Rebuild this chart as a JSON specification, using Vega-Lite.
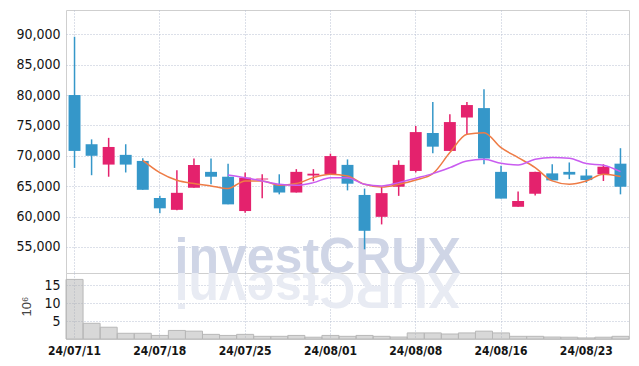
{
  "$schema": "https://vega.github.io/schema/vega-lite/v6.json",
  "padding": {"left": 15, "top": 9, "right": 10, "bottom": 5},
  "spacing": 0,
  "bounds": "flush",
  "background": "white",
  "data": {"values": [
    {"d": "24/07/11", "o": 80000, "h": 89600, "l": 68000, "c": 70800, "v": 16.7, "m5": null, "m10": null},
    {"d": "24/07/12", "o": 71900, "h": 72700, "l": 66800, "c": 70000, "v": 4.4, "m5": null, "m10": null},
    {"d": "24/07/15", "o": 68550, "h": 72950, "l": 66550, "c": 71450, "v": 3.3, "m5": null, "m10": null},
    {"d": "24/07/16", "o": 70150, "h": 71900, "l": 67250, "c": 68550, "v": 1.6, "m5": null, "m10": null},
    {"d": "24/07/17", "o": 69150, "h": 69600, "l": 64400, "c": 64400, "v": 1.6, "m5": 69250, "m10": null},
    {"d": "24/07/18", "o": 63050, "h": 63400, "l": 60550, "c": 61350, "v": 1.0, "m5": 67230, "m10": null},
    {"d": "24/07/19", "o": 61100, "h": 67600, "l": 61050, "c": 63900, "v": 2.4, "m5": 65970, "m10": null},
    {"d": "24/07/22", "o": 64750, "h": 69550, "l": 64750, "c": 68500, "v": 2.2, "m5": 65420, "m10": null},
    {"d": "24/07/23", "o": 67350, "h": 69550, "l": 65300, "c": 66550, "v": 1.3, "m5": 65030, "m10": null},
    {"d": "24/07/24", "o": 66550, "h": 68700, "l": 62000, "c": 62000, "v": 1.0, "m5": 64600, "m10": 66850},
    {"d": "24/07/25", "o": 60900, "h": 67250, "l": 60600, "c": 66400, "v": 1.3, "m5": 65860, "m10": 66400},
    {"d": "24/07/26", "o": 66100, "h": 66950, "l": 63000, "c": 66250, "v": 0.75, "m5": 65860, "m10": 65860},
    {"d": "24/07/29", "o": 65200, "h": 66950, "l": 63650, "c": 63950, "v": 0.75, "m5": 65150, "m10": 65310},
    {"d": "24/07/30", "o": 63950, "h": 67800, "l": 63950, "c": 67350, "v": 1.0, "m5": 65420, "m10": 65140},
    {"d": "24/07/31", "o": 66750, "h": 67800, "l": 65800, "c": 67050, "v": 0.5, "m5": 66400, "m10": 65580},
    {"d": "24/08/01", "o": 66950, "h": 70350, "l": 66950, "c": 69950, "v": 1.0, "m5": 66950, "m10": 66400},
    {"d": "24/08/02", "o": 68500, "h": 69400, "l": 64300, "c": 65400, "v": 0.75, "m5": 66680, "m10": 66400},
    {"d": "24/08/05", "o": 63550, "h": 64600, "l": 54600, "c": 57650, "v": 1.0, "m5": 65300, "m10": 65300},
    {"d": "24/08/06", "o": 59950, "h": 64850, "l": 58700, "c": 63850, "v": 0.75, "m5": 64870, "m10": 65030},
    {"d": "24/08/07", "o": 64900, "h": 69250, "l": 63400, "c": 68500, "v": 0.55, "m5": 65300, "m10": 65580},
    {"d": "24/08/08", "o": 67500, "h": 74900, "l": 67250, "c": 73900, "v": 1.7, "m5": 66020, "m10": 66300},
    {"d": "24/08/09", "o": 73750, "h": 78850, "l": 70400, "c": 71500, "v": 1.7, "m5": 67060, "m10": 67060},
    {"d": "24/08/12", "o": 70800, "h": 76850, "l": 70800, "c": 75550, "v": 1.4, "m5": 70520, "m10": 68050},
    {"d": "24/08/13", "o": 76300, "h": 78850, "l": 73550, "c": 78350, "v": 1.7, "m5": 73540, "m10": 69150},
    {"d": "24/08/14", "o": 77850, "h": 80950, "l": 68600, "c": 69550, "v": 2.2, "m5": 73810, "m10": 69420},
    {"d": "24/08/16", "o": 67350, "h": 68350, "l": 62950, "c": 62950, "v": 1.7, "m5": 71340, "m10": 68770},
    {"d": "24/08/19", "o": 61600, "h": 64100, "l": 61600, "c": 62550, "v": 0.75, "m5": 69700, "m10": 68490},
    {"d": "24/08/20", "o": 63750, "h": 67350, "l": 63450, "c": 67350, "v": 0.75, "m5": 68050, "m10": 69420},
    {"d": "24/08/21", "o": 67100, "h": 68600, "l": 65950, "c": 65950, "v": 0.55, "m5": 65860, "m10": 69700},
    {"d": "24/08/22", "o": 67350, "h": 68900, "l": 66150, "c": 66900, "v": 0.5, "m5": 65310, "m10": 69590},
    {"d": "24/08/23", "o": 66750, "h": 67800, "l": 65550, "c": 66000, "v": 0.3, "m5": 65860, "m10": 68710},
    {"d": "24/08/26", "o": 66950, "h": 68600, "l": 65850, "c": 68200, "v": 0.5, "m5": 66950, "m10": 68440},
    {"d": "24/08/27", "o": 68700, "h": 71250, "l": 63650, "c": 64900, "v": 0.75, "m5": 66570, "m10": 67390}
  ]},
  "config": {
    "view": {"stroke": "#cfcfcf"},
    "axis": {
      "labelFont": "DejaVu Sans Condensed, Roboto, sans-serif",
      "labelFontSize": 14,
      "labelColor": "#141414",
      "labelOverlap": false,
      "gridColor": "#b9c1d3",
      "gridDash": [1, 2],
      "gridWidth": 1,
      "domain": false,
      "ticks": false,
      "labelPadding": 6
    }
  },
  "vconcat": [
    {
      "width": 563,
      "height": 263,
      "encoding": {
        "x": {
          "field": "d", "type": "ordinal",
          "scale": {"paddingInner": 0, "paddingOuter": 0},
          "axis": {"labels": false, "grid": true, "title": null, "labelPadding": 0, "tickCount": 40,
            "values": ["24/07/11", "24/07/18", "24/07/25", "24/08/01", "24/08/08", "24/08/16", "24/08/23"]}
        }
      },
      "layer": [
        {
          "data": {"values": [{"t": "investCRUX"}]},
          "mark": {"type": "text", "font": "Liberation Sans", "fontWeight": "bold", "fontSize": 50, "color": "#cfd5e6", "align": "center", "baseline": "alphabetic", "clip": true},
          "encoding": {
            "x": {"datum": "24/07/31", "type": "ordinal", "bandPosition": 0.75},
            "y": {"datum": 50700, "type": "quantitative"},
            "text": {"field": "t"}
          }
        },
        {
          "mark": {"type": "rule", "strokeWidth": 1.5},
          "encoding": {
            "y": {"field": "l", "type": "quantitative", "title": null,
              "scale": {"domain": [50700, 94000], "nice": false, "zero": false},
              "axis": {"values": [55000, 60000, 65000, 70000, 75000, 80000, 85000, 90000], "tickCount": 20, "format": ",d", "grid": true, "title": null, "labelOverlap": false}},
            "y2": {"field": "h"},
            "color": {"condition": {"test": "datum.c >= datum.o", "value": "#e4226d"}, "value": "#3597c9"}
          }
        },
        {
          "mark": {"type": "bar", "width": {"band": 0.7}},
          "encoding": {
            "y": {"field": "o", "type": "quantitative", "title": null},
            "y2": {"field": "c"},
            "color": {"condition": {"test": "datum.c >= datum.o", "value": "#e4226d"}, "value": "#3597c9"}
          }
        },
        {
          "mark": {"type": "line", "interpolate": "monotone", "color": "#ee7b45", "strokeWidth": 1.5},
          "encoding": {"y": {"field": "m5", "type": "quantitative", "title": null}}
        },
        {
          "mark": {"type": "line", "interpolate": "monotone", "color": "#c95cf0", "strokeWidth": 1.5},
          "encoding": {"y": {"field": "m10", "type": "quantitative", "title": null}}
        }
      ]
    },
    {
      "width": 563,
      "height": 66,
      "encoding": {
        "x": {
          "field": "d", "type": "ordinal",
          "scale": {"paddingInner": 0, "paddingOuter": 0},
          "axis": {"grid": true, "title": null, "labelAngle": 0, "labelFontWeight": "bold", "labelFontSize": 12, "labelOverlap": false, "tickCount": 40,
            "values": ["24/07/11", "24/07/18", "24/07/25", "24/08/01", "24/08/08", "24/08/16", "24/08/23"]}
        }
      },
      "layer": [
        {
          "data": {"values": [{"t": "XURCtsevni"}]},
          "mark": {"type": "text", "font": "Liberation Sans", "fontWeight": "bold", "fontSize": 50, "color": "#e8ebf3", "align": "center", "baseline": "alphabetic", "angle": 180, "clip": true},
          "encoding": {
            "x": {"datum": "24/07/31", "type": "ordinal", "bandPosition": 0.75},
            "y": {"datum": 18.5, "type": "quantitative"},
            "text": {"field": "t"}
          }
        },
        {
          "mark": {"type": "bar", "width": {"band": 1}, "fill": "#a8a8a8", "fillOpacity": 0.45, "stroke": "#b8b8b8", "strokeWidth": 1},
          "encoding": {
            "y": {"field": "v", "type": "quantitative",
              "scale": {"domain": [0, 18.5], "nice": false},
              "axis": {"values": [5, 10, 15], "tickCount": 10, "grid": true, "labelOverlap": false, "title": "10⁶", "titleFont": "Liberation Sans", "titleFontWeight": "normal", "titleFontSize": 13, "titleColor": "#444444", "titlePadding": 10}}
          }
        }
      ]
    }
  ]
}
